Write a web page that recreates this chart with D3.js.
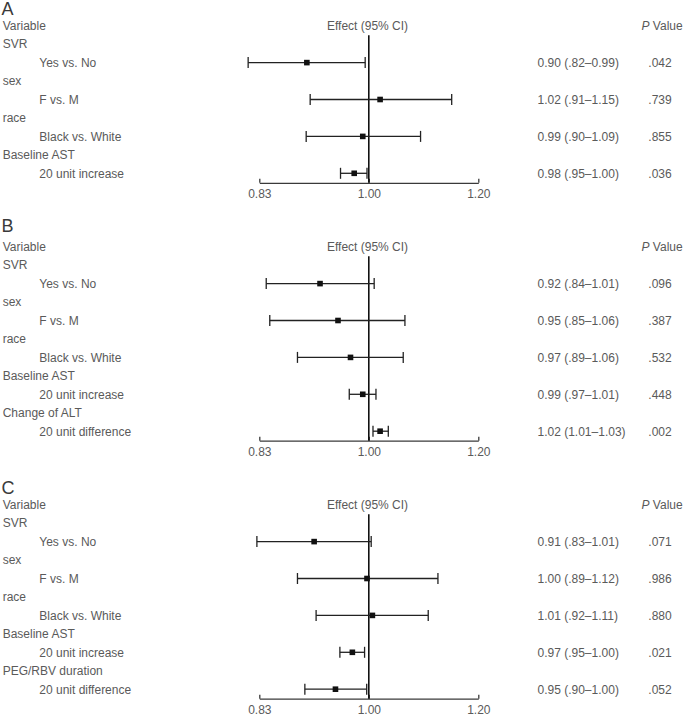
<!DOCTYPE html>
<html>
<head>
<meta charset="utf-8">
<script src="https://cdn.jsdelivr.net/npm/d3@7"></script>
<style>
  body { margin: 0; background: #fff; }
  svg { display: block; }
  text { font-family: "Liberation Sans", Arial, sans-serif; }
</style>
</head>
<body>
<svg id="chart" width="684" height="720"></svg>
<script>
// ---------- data ----------
const panelLetters = ["A", "B", "C"];

const groupsA = ["SVR", "sex", "race", "Baseline AST"];
const contrastsA = ["Yes vs. No", "F vs. M", "Black vs. White", "20 unit increase"];
const estA = [0.902, 1.019, 0.990, 0.976];
const loA  = [0.818, 0.907, 0.901, 0.954];
const hiA  = [0.994, 1.148, 1.090, 0.997];
const ciTextA = ["0.90 (.82\u20130.99)", "1.02 (.91\u20131.15)", "0.99 (.90\u20131.09)", "0.98 (.95\u20131.00)"];
const pA = [".042", ".739", ".855", ".036"];

const groupsB = ["SVR", "sex", "race", "Baseline AST", "Change of ALT"];
const contrastsB = ["Yes vs. No", "F vs. M", "Black vs. White", "20 unit increase", "20 unit difference"];
const estB = [0.922, 0.950, 0.970, 0.990, 1.019];
const loB  = [0.843, 0.848, 0.888, 0.968, 1.007];
const hiB  = [1.009, 1.062, 1.059, 1.012, 1.033];
const ciTextB = ["0.92 (.84\u20131.01)", "0.95 (.85\u20131.06)", "0.97 (.89\u20131.06)", "0.99 (.97\u20131.01)", "1.02 (1.01\u20131.03)"];
const pB = [".096", ".387", ".532", ".448", ".002"];

const groupsC = ["SVR", "sex", "race", "Baseline AST", "PEG/RBV duration"];
const contrastsC = ["Yes vs. No", "F vs. M", "Black vs. White", "20 unit increase", "20 unit difference"];
const estC = [0.913, 0.997, 1.006, 0.973, 0.946];
const loC  = [0.830, 0.888, 0.916, 0.953, 0.899];
const hiC  = [1.004, 1.122, 1.104, 0.993, 0.9965];
const ciTextC = ["0.91 (.83\u20131.01)", "1.00 (.89\u20131.12)", "1.01 (.92\u20131.11)", "0.97 (.95\u20131.00)", "0.95 (.90\u20131.00)"];
const pC = [".071", ".986", ".880", ".021", ".052"];

const tickValues = [1 / 1.2, 1.0, 1.2];
const tickLabels = ["0.83", "1.00", "1.20"];

// ---------- layout ----------
const panels = [
  { letter: panelLetters[0], top: 0,   letterY: 15,   groups: groupsA, contrasts: contrastsA, est: estA, lo: loA, hi: hiA, ci: ciTextA, p: pA },
  { letter: panelLetters[1], top: 221, letterY: 10.7, groups: groupsB, contrasts: contrastsB, est: estB, lo: loB, hi: hiB, ci: ciTextB, p: pB },
  { letter: panelLetters[2], top: 479, letterY: 15.3, groups: groupsC, contrasts: contrastsC, est: estC, lo: loC, hi: hiC, ci: ciTextC, p: pC }
];

const svg = d3.select("#chart");
const x = d3.scaleLog().domain([1 / 1.2, 1.2]).range([259.3, 478.3]);
const rowH = 18.45;
const headerY = 25.7;        // center of header row relative to panel top
const textColor = "#5a5a5a";
const fontSize = 12;
const base = 4.3;            // baseline offset from visual center

panels.forEach(pn => {
  const g = svg.append("g").attr("transform", `translate(0,${pn.top})`);
  const rowY = i => headerY + i * rowH;   // i=0 header row
  const n = pn.groups.length;

  // Panel letter
  g.append("text").attr("x", 1.5).attr("y", pn.letterY)
    .attr("font-size", 18).attr("fill", "#3a3a3a").text(pn.letter);

  // Headers
  g.append("text").attr("x", 2.7).attr("y", rowY(0) + base)
    .attr("font-size", fontSize).attr("fill", textColor).text("Variable");
  g.append("text").attr("x", 367.5).attr("y", rowY(0) + base)
    .attr("text-anchor", "middle")
    .attr("font-size", fontSize).attr("fill", textColor).text("Effect (95% CI)");
  const ph = g.append("text").attr("x", 641.5).attr("y", rowY(0) + base)
    .attr("font-size", fontSize).attr("fill", textColor);
  ph.append("tspan").attr("font-style", "italic").text("P");
  ph.append("tspan").text(" Value");

  // Row labels
  pn.groups.forEach((grp, i) => {
    g.append("text").attr("x", 2.7).attr("y", rowY(1 + 2 * i) + base)
      .attr("font-size", fontSize).attr("fill", textColor).text(grp);
    g.append("text").attr("x", 39.3).attr("y", rowY(2 + 2 * i) + base)
      .attr("font-size", fontSize).attr("fill", textColor).text(pn.contrasts[i]);
    g.append("text").attr("x", 537.5).attr("y", rowY(2 + 2 * i) + base)
      .attr("font-size", fontSize).attr("fill", textColor).text(pn.ci[i]);
    g.append("text").attr("x", 660).attr("y", rowY(2 + 2 * i) + base)
      .attr("text-anchor", "middle")
      .attr("font-size", fontSize).attr("fill", textColor).text(pn.p[i]);
  });

  const axisY = rowY(2 * n) + 9.5;

  // Axis
  const axis = d3.axisBottom(x)
    .tickValues(tickValues)
    .tickFormat((d, i) => tickLabels[i])
    .tickSizeInner(-4)
    .tickSizeOuter(0)
    .tickPadding(7);
  const ag = g.append("g").attr("transform", `translate(0,${axisY})`).call(axis);
  ag.select(".domain").attr("stroke", "#3a3a3a").attr("stroke-width", 1.3);
  ag.selectAll(".tick line").attr("stroke", "#3a3a3a").attr("stroke-width", 1.3);
  ag.selectAll(".tick text").attr("font-size", fontSize).attr("fill", textColor)
    .attr("font-family", "Liberation Sans, Arial, sans-serif");

  // Reference line at 1.00
  g.append("line")
    .attr("x1", x(1)).attr("x2", x(1))
    .attr("y1", rowY(0) + 9.5).attr("y2", axisY)
    .attr("stroke", "#111").attr("stroke-width", 1.6);

  // Error bars
  const capH = 5.5;
  pn.est.forEach((e, i) => {
    const y = rowY(2 + 2 * i);
    const bar = g.append("g").attr("stroke", "#222").attr("stroke-width", 1.3);
    bar.append("line").attr("x1", x(pn.lo[i])).attr("x2", x(pn.hi[i])).attr("y1", y).attr("y2", y);
    bar.append("line").attr("x1", x(pn.lo[i])).attr("x2", x(pn.lo[i])).attr("y1", y - capH).attr("y2", y + capH);
    bar.append("line").attr("x1", x(pn.hi[i])).attr("x2", x(pn.hi[i])).attr("y1", y - capH).attr("y2", y + capH);
    g.append("rect")
      .attr("x", x(e) - 2.8).attr("y", y - 2.8)
      .attr("width", 5.6).attr("height", 5.6)
      .attr("fill", "#111");
  });
});
</script>
</body>
</html>
